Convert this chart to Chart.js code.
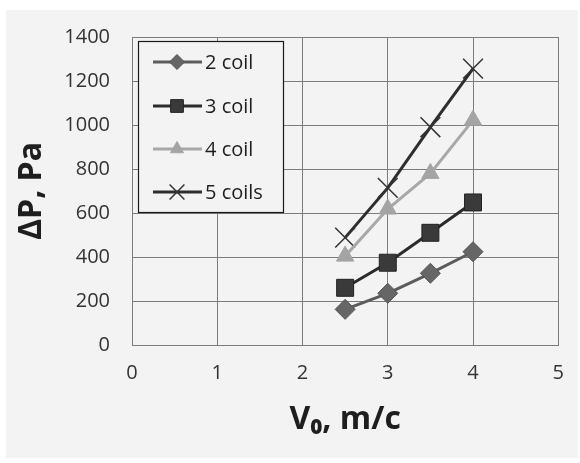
<!DOCTYPE html>
<html>
<head>
<meta charset="utf-8">
<script src="https://cdn.jsdelivr.net/npm/chart.js@4.4.1/dist/chart.umd.min.js"></script>
<style>
  html, body { margin: 0; padding: 0; background: #ffffff; }
  #wrap { width: 580px; height: 463px; }
</style>
</head>
<body>
<div id="wrap"><canvas id="chart" width="580" height="463"></canvas></div>
<script>
// data
const velocity = [2.5, 3, 3.5, 4];
const coil2 = [162, 235, 326, 424];
const coil3 = [260, 374, 510, 648];
const coil4 = [404, 618, 780, 1022];
const coil5 = [488, 714, 990, 1256];
const seriesNames = ['2 coil', '3 coil', '4 coil', '5 coils'];
const xTicks = [0, 1, 2, 3, 4, 5];
const yTicks = [0, 200, 400, 600, 800, 1000, 1200, 1400];

const pts = vals => velocity.map((v, i) => ({ x: v, y: vals[i] }));

// fondo gris claro como el escaneo
const fondo = {
    id: 'fondo',
    beforeDraw(chart) {
        const c = chart.ctx;
        c.save();
        c.fillStyle = '#f3f3f3';
        c.fillRect(6, 10, 572, 448);
        c.restore();
    }
};

// leyenda dentro del area del grafico
const leyenda = {
    id: 'leyenda',
    afterDatasetsDraw(chart) {
        const c = chart.ctx;
        c.save();
        c.fillStyle = '#f3f3f3';
        c.fillRect(138, 41, 145, 171);
        c.strokeStyle = '#1a1a1a';
        c.lineWidth = 1.2;
        c.strokeRect(138.5, 41.5, 145, 171);
        const rows = [62, 106, 149, 192];
        chart.data.datasets.forEach((ds, i) => {
            const y = rows[i];
            c.strokeStyle = ds.borderColor;
            c.lineWidth = ds.borderWidth;
            c.beginPath();
            c.moveTo(153, y);
            c.lineTo(202, y);
            c.stroke();
            c.fillStyle = ds.pointBackgroundColor;
            c.strokeStyle = ds.pointBorderColor;
            c.lineWidth = ds.pointBorderWidth;
            Chart.helpers.drawPoint(c, {
                pointStyle: ds.pointStyle,
                radius: ds.pointRadius * 0.75,
                rotation: 0,
                borderWidth: ds.pointBorderWidth
            }, 177, y);
            c.fillStyle = '#1e1e1e';
            c.font = '20px "Open Sans"';
            c.textBaseline = 'middle';
            c.textAlign = 'left';
            c.fillText(ds.label, 205, y + 1);
        });
        c.restore();
    }
};

new Chart(document.getElementById('chart'), {
    type: 'scatter',
    data: {
        datasets: [
            {
                label: seriesNames[0], data: pts(coil2), showLine: true,
                borderColor: '#5c5c5c', borderWidth: 3,
                pointStyle: 'rectRot', pointRadius: 10,
                pointBackgroundColor: '#666666', pointBorderColor: '#555555', pointBorderWidth: 1
            },
            {
                label: seriesNames[1], data: pts(coil3), showLine: true,
                borderColor: '#2b2b2b', borderWidth: 3,
                pointStyle: 'rect', pointRadius: 12,
                pointBackgroundColor: '#3a3a3a', pointBorderColor: '#222222', pointBorderWidth: 1
            },
            {
                label: seriesNames[2], data: pts(coil4), showLine: true,
                borderColor: '#a8a8a8', borderWidth: 3,
                pointStyle: 'triangle', pointRadius: 10,
                pointBackgroundColor: '#a4a4a4', pointBorderColor: '#a4a4a4', pointBorderWidth: 1
            },
            {
                label: seriesNames[3], data: pts(coil5), showLine: true,
                borderColor: '#2e2e2e', borderWidth: 3,
                pointStyle: 'crossRot', pointRadius: 14,
                pointBackgroundColor: '#333333', pointBorderColor: '#333333', pointBorderWidth: 1.5
            }
        ]
    },
    options: {
        responsive: false,
        animation: false,
        layout: { padding: { top: 37, right: 14, left: 0, bottom: 0 } },
        plugins: {
            legend: { display: false },
            tooltip: { enabled: false }
        },
        scales: {
            x: {
                type: 'linear', min: 0, max: 5,
                afterFit: s => { s.height = 118; },
                afterBuildTicks: s => { s.ticks = xTicks.map(v => ({ value: v })); },
                grid: { color: '#7c7c7c', lineWidth: 1, drawTicks: false },
                border: { color: '#7c7c7c' },
                ticks: {
                    padding: 16, color: '#333333', font: { family: 'Open Sans', size: 20 },
                    callback: v => String(v)
                },
                title: {
                    display: true, text: 'V₀, m/c', color: '#1e1e1e',
                    font: { family: 'Open Sans', size: 32, weight: 'bold' },
                    padding: { top: 0, bottom: 24 }
                }
            },
            y: {
                type: 'linear', min: 0, max: 1400,
                afterFit: s => { s.width = 132; },
                afterBuildTicks: s => { s.ticks = yTicks.map(v => ({ value: v })); },
                grid: { color: '#7c7c7c', lineWidth: 1, drawTicks: false },
                border: { color: '#7c7c7c' },
                ticks: {
                    padding: 22, color: '#333333', font: { family: 'Open Sans', size: 20 },
                    callback: v => String(v)
                },
                title: {
                    display: true, text: 'ΔP, Pa', color: '#1e1e1e',
                    font: { family: 'Open Sans', size: 32, weight: 'bold' },
                    padding: { top: 13, bottom: 0 }
                }
            }
        }
    },
    plugins: [fondo, leyenda]
});
</script>
</body>
</html>
